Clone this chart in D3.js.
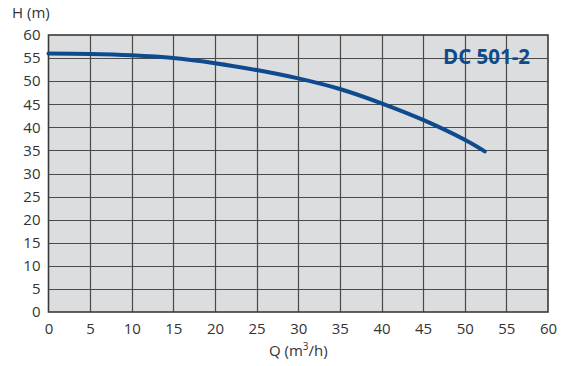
<!DOCTYPE html>
<html>
<head>
<meta charset="utf-8">
<script src="https://cdn.jsdelivr.net/npm/d3@7/dist/d3.min.js"></script>
<style>
  html, body { margin: 0; padding: 0; background: #fff; }
  svg { display: block; }
  text { font-family: "Open Sans", "Noto Sans", sans-serif; fill: #333; }
</style>
</head>
<body>
<svg id="chart" width="564" height="366"></svg>
<script>
// Pump performance curve: flow Q (m³/h) vs head H (m)
const flowQ = [0, 5, 10, 15, 20, 25, 30, 35, 40, 45, 50, 52.4];
const headH = [56.0, 55.9, 55.6, 55.0, 53.9, 52.4, 50.6, 48.3, 45.2, 41.6, 37.3, 34.8];
const xTicks = [0, 5, 10, 15, 20, 25, 30, 35, 40, 45, 50, 55, 60];
const yTicks = [0, 5, 10, 15, 20, 25, 30, 35, 40, 45, 50, 55, 60];
const modelName = "DC 501-2";

const svg = d3.select("#chart");
const m = { left: 48.5, right: 16, top: 35, bottom: 54 };
const W = 564, H = 366;

const x = d3.scaleLinear().domain([0, 60]).range([m.left, W - m.right]);
const y = d3.scaleLinear().domain([0, 60]).range([H - m.bottom, m.top]);

// plot background
svg.append("rect")
  .attr("x", x(0)).attr("y", y(60))
  .attr("width", x(60) - x(0)).attr("height", y(0) - y(60))
  .attr("fill", "#dcdddf");

// grid
const grid = svg.append("g").attr("stroke", "#4a4a4a").attr("stroke-width", 1.2);
grid.selectAll(".vx").data(xTicks.slice(1, -1)).join("line")
  .attr("x1", d => Math.round(x(d)) + 0.5).attr("x2", d => Math.round(x(d)) + 0.5)
  .attr("y1", y(60)).attr("y2", y(0));
grid.selectAll(".hy").data(yTicks.slice(1, -1)).join("line")
  .attr("y1", d => Math.round(y(d)) + 0.5).attr("y2", d => Math.round(y(d)) + 0.5)
  .attr("x1", x(0)).attr("x2", x(60));

// frame
svg.append("rect")
  .attr("x", x(0)).attr("y", y(60))
  .attr("width", x(60) - x(0)).attr("height", y(0) - y(60))
  .attr("fill", "none").attr("stroke", "#3a3a3a").attr("stroke-width", 1.6);

// axes (labels only)
const xAxis = svg.append("g")
  .attr("transform", `translate(0,${y(0)})`)
  .call(d3.axisBottom(x).tickValues(xTicks).tickSize(0).tickPadding(11));
xAxis.select(".domain").remove();
xAxis.selectAll("text").attr("font-size", 15).style("fill", "#333")
  .style("font-family", '"Open Sans", "Noto Sans", sans-serif');

const yAxis = svg.append("g")
  .attr("transform", `translate(${x(0)},0)`)
  .call(d3.axisLeft(y).tickValues(yTicks).tickSize(0).tickPadding(8));
yAxis.select(".domain").remove();
yAxis.selectAll("text").attr("font-size", 15).style("fill", "#333")
  .style("font-family", '"Open Sans", "Noto Sans", sans-serif');

// axis titles
svg.append("text").attr("x", 12).attr("y", 18).attr("font-size", 15).text("H (m)");

const qt = svg.append("text").attr("x", x(30)).attr("y", 356)
  .attr("text-anchor", "middle").attr("font-size", 15);
qt.append("tspan").text("Q (m");
qt.append("tspan").attr("dy", -6).attr("font-size", 10).text("3");
qt.append("tspan").attr("dy", 6).text("/h)");

// curve
const pts = flowQ.map((q, i) => [q, headH[i]]);
svg.append("path")
  .datum(pts)
  .attr("fill", "none")
  .attr("stroke", "#0d4b8e")
  .attr("stroke-width", 4)
  .attr("stroke-linecap", "round")
  .attr("d", d3.line().x(d => x(d[0])).y(d => y(d[1])).curve(d3.curveCatmullRom));

// model label
svg.append("text")
  .attr("x", 530).attr("y", 64)
  .attr("text-anchor", "end")
  .attr("font-size", 20.5).attr("font-weight", "bold")
  .style("font-family", '"Open Sans", "Noto Sans", sans-serif')
  .style("fill", "#0d4b8e")
  .text(modelName);
</script>
</body>
</html>
